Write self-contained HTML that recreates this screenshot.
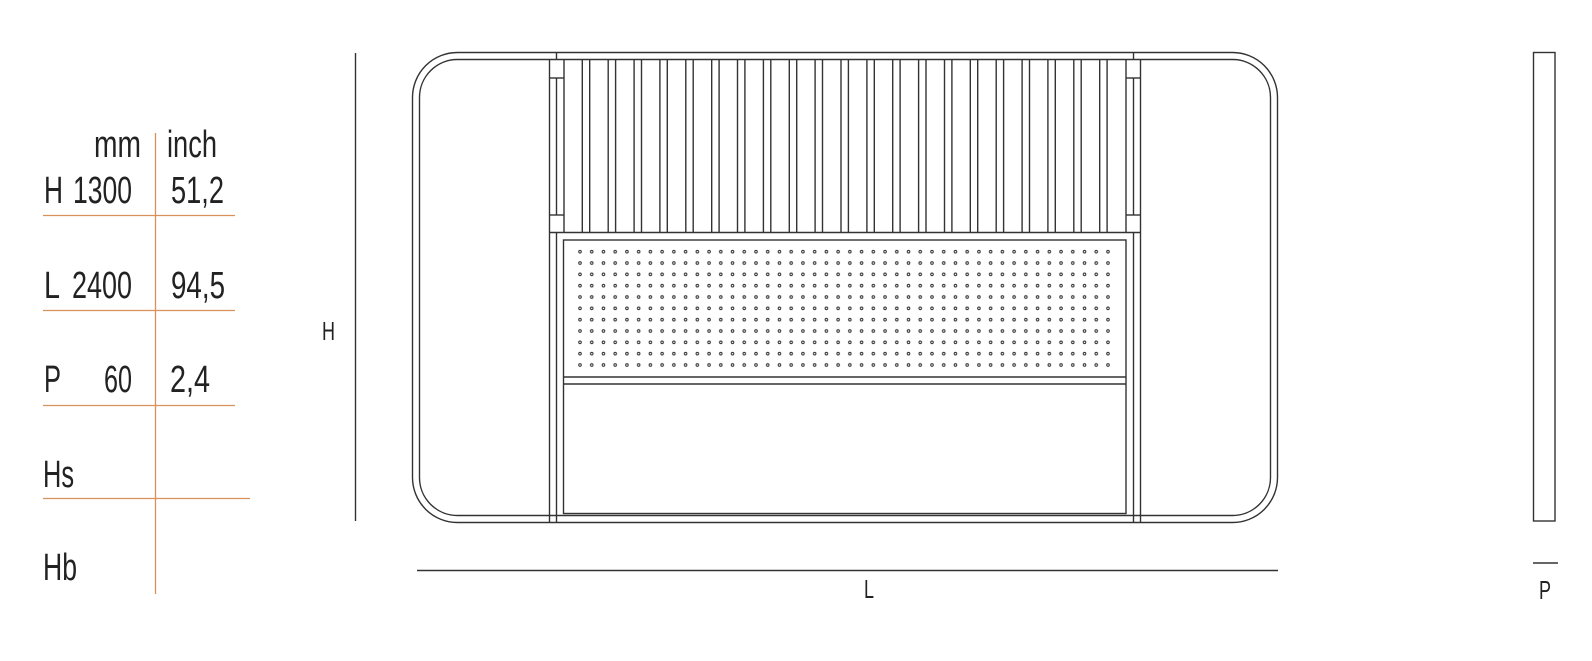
<!DOCTYPE html>
<html><head><meta charset="utf-8"><style>html,body{margin:0;padding:0;background:#fff}svg{display:block}</style></head>
<body>
<svg width="1592" height="661" viewBox="0 0 1592 661" xmlns="http://www.w3.org/2000/svg">
<defs>
<pattern id="dots" patternUnits="userSpaceOnUse" x="574.13" y="246.03" width="11.733" height="11.33">
<circle cx="5.866" cy="5.665" r="1.3" fill="#fff" stroke="#333" stroke-width="1"/>
</pattern>
</defs>
<g font-family="Liberation Sans, sans-serif" fill="#222" font-weight="normal">
<!-- table -->
<g stroke="#d9915a" stroke-width="1.3">
<line x1="155.5" y1="133" x2="155.5" y2="594"/>
<line x1="43" y1="215.5" x2="235" y2="215.5"/>
<line x1="43" y1="310.5" x2="235" y2="310.5"/>
<line x1="43" y1="405.5" x2="235" y2="405.5"/>
<line x1="43" y1="498.5" x2="250" y2="498.5"/>
</g>
<g font-size="38">
<text x="94" y="157" textLength="47" lengthAdjust="spacingAndGlyphs">mm</text>
<text x="167" y="157" textLength="50" lengthAdjust="spacingAndGlyphs">inch</text>
<text x="44" y="203" textLength="19" lengthAdjust="spacingAndGlyphs">H</text>
<text x="73" y="203" textLength="59" lengthAdjust="spacingAndGlyphs">1300</text>
<text x="171" y="203" textLength="53" lengthAdjust="spacingAndGlyphs">51,2</text>
<text x="44" y="298" textLength="16" lengthAdjust="spacingAndGlyphs">L</text>
<text x="72" y="298" textLength="60" lengthAdjust="spacingAndGlyphs">2400</text>
<text x="171" y="298" textLength="54" lengthAdjust="spacingAndGlyphs">94,5</text>
<text x="44" y="392" textLength="17" lengthAdjust="spacingAndGlyphs">P</text>
<text x="104" y="392" textLength="28" lengthAdjust="spacingAndGlyphs">60</text>
<text x="170" y="392" textLength="40" lengthAdjust="spacingAndGlyphs">2,4</text>
<text x="43" y="487" textLength="31" lengthAdjust="spacingAndGlyphs">Hs</text>
<text x="43" y="580" textLength="34" lengthAdjust="spacingAndGlyphs">Hb</text>
</g>
<g font-size="26">
<text x="322" y="340" textLength="13" lengthAdjust="spacingAndGlyphs">H</text>
<text x="864" y="598" textLength="10" lengthAdjust="spacingAndGlyphs">L</text>
<text x="1539" y="599" textLength="12" lengthAdjust="spacingAndGlyphs">P</text>
</g>
</g>
<g fill="none" stroke="#333" stroke-width="1.4">
<!-- dimension lines -->
<line x1="355.5" y1="53" x2="355.5" y2="521"/>
<line x1="417" y1="570.5" x2="1278" y2="570.5"/>
<rect x="1533.5" y="52.5" width="21.5" height="468.5"/>
<line x1="1533" y1="563" x2="1558" y2="563"/>
<!-- frame -->
<rect x="412.5" y="52.5" width="865" height="470" rx="45"/>
<rect x="419.5" y="59.5" width="851" height="456" rx="38"/>
<!-- joints top -->
<line x1="556.5" y1="52" x2="556.5" y2="59"/>
<line x1="1133.5" y1="52" x2="1133.5" y2="59"/>
<!-- posts -->
<line x1="549.5" y1="59" x2="549.5" y2="523"/>
<line x1="564" y1="59" x2="564" y2="232.5"/>
<line x1="556.5" y1="78" x2="556.5" y2="215"/>
<line x1="549.5" y1="78" x2="564" y2="78"/>
<line x1="549.5" y1="215" x2="564" y2="215"/>
<line x1="556.5" y1="232.5" x2="556.5" y2="523"/>
<line x1="1140.5" y1="59" x2="1140.5" y2="523"/>
<line x1="1126" y1="59" x2="1126" y2="232.5"/>
<line x1="1133.5" y1="78" x2="1133.5" y2="215"/>
<line x1="1126" y1="78" x2="1140.5" y2="78"/>
<line x1="1126" y1="215" x2="1140.5" y2="215"/>
<line x1="1133.5" y1="232.5" x2="1133.5" y2="523"/>
<line x1="549.5" y1="232.5" x2="1140.5" y2="232.5"/>
<!-- slats -->
<g id="slats">
<line x1="582.3" y1="59" x2="582.3" y2="232"/><line x1="589.7" y1="59" x2="589.7" y2="232"/>
</g>
<g>
<script>/* none */</script>
</g>
<!-- panel -->
<rect x="563.5" y="240" width="562.5" height="273.5"/>
<line x1="563.5" y1="377" x2="1126" y2="377"/>
<line x1="563.5" y1="384" x2="1126" y2="384"/>
</g>
<rect x="574" y="246" width="540" height="125" fill="url(#dots)"/>
<g stroke="#333" stroke-width="1.4">
<line x1="608.2" y1="59" x2="608.2" y2="232"/><line x1="615.6" y1="59" x2="615.6" y2="232"/>
<line x1="634.1" y1="59" x2="634.1" y2="232"/><line x1="641.5" y1="59" x2="641.5" y2="232"/>
<line x1="659.9" y1="59" x2="659.9" y2="232"/><line x1="667.3" y1="59" x2="667.3" y2="232"/>
<line x1="685.8" y1="59" x2="685.8" y2="232"/><line x1="693.2" y1="59" x2="693.2" y2="232"/>
<line x1="711.7" y1="59" x2="711.7" y2="232"/><line x1="719.1" y1="59" x2="719.1" y2="232"/>
<line x1="737.5" y1="59" x2="737.5" y2="232"/><line x1="744.9" y1="59" x2="744.9" y2="232"/>
<line x1="763.4" y1="59" x2="763.4" y2="232"/><line x1="770.8" y1="59" x2="770.8" y2="232"/>
<line x1="789.3" y1="59" x2="789.3" y2="232"/><line x1="796.7" y1="59" x2="796.7" y2="232"/>
<line x1="815.1" y1="59" x2="815.1" y2="232"/><line x1="822.5" y1="59" x2="822.5" y2="232"/>
<line x1="841.0" y1="59" x2="841.0" y2="232"/><line x1="848.4" y1="59" x2="848.4" y2="232"/>
<line x1="866.9" y1="59" x2="866.9" y2="232"/><line x1="874.3" y1="59" x2="874.3" y2="232"/>
<line x1="892.7" y1="59" x2="892.7" y2="232"/><line x1="900.1" y1="59" x2="900.1" y2="232"/>
<line x1="918.6" y1="59" x2="918.6" y2="232"/><line x1="926.0" y1="59" x2="926.0" y2="232"/>
<line x1="944.5" y1="59" x2="944.5" y2="232"/><line x1="951.9" y1="59" x2="951.9" y2="232"/>
<line x1="970.3" y1="59" x2="970.3" y2="232"/><line x1="977.7" y1="59" x2="977.7" y2="232"/>
<line x1="996.2" y1="59" x2="996.2" y2="232"/><line x1="1003.6" y1="59" x2="1003.6" y2="232"/>
<line x1="1022.1" y1="59" x2="1022.1" y2="232"/><line x1="1029.5" y1="59" x2="1029.5" y2="232"/>
<line x1="1047.9" y1="59" x2="1047.9" y2="232"/><line x1="1055.3" y1="59" x2="1055.3" y2="232"/>
<line x1="1073.8" y1="59" x2="1073.8" y2="232"/><line x1="1081.2" y1="59" x2="1081.2" y2="232"/>
<line x1="1099.7" y1="59" x2="1099.7" y2="232"/><line x1="1107.1" y1="59" x2="1107.1" y2="232"/>
</g>
</svg>
</body></html>
